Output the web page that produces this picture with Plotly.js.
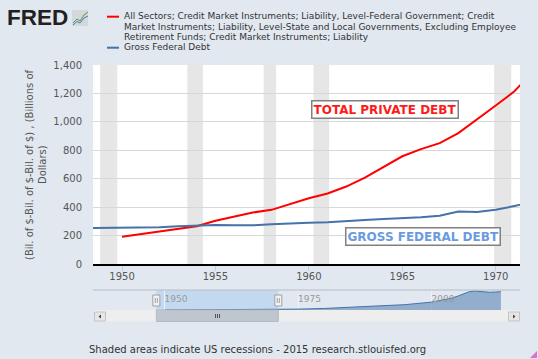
<!DOCTYPE html>
<html><head><meta charset="utf-8">
<script src="https://cdn.plot.ly/plotly-3.0.1.min.js"></script>
<style>html,body{margin:0;padding:0;background:#e1e8f0;}#chart{width:538px;height:359px;}</style>
</head><body><div id="chart"></div>
<script>
// ---- data ----
const privateYears = [1950,1951,1952,1953,1954,1955,1956,1957,1958,1959,1960,1961,1962,1963,1964,1965,1966,1967,1968,1969,1970,1971,1972];
const privateDebt  = [191,210,226,247,266,304,334,362,381,423,462,496,545,607,683,758,808,850,921,1015,1115,1215,1355];
const fedYears = [1948,1949,1950,1951,1952,1953,1954,1955,1956,1957,1958,1959,1960,1961,1962,1963,1964,1965,1966,1967,1968,1969,1970,1971,1972];
const fedDebt  = [252,253,257,255,259,266,271,274,273,272,280,288,291,293,303,310,316,322,329,340,369,366,381,408,436];
// navigator thumbnail (first series, full history), later years read from the small overview
const navLaterYears  = [1975,1980,1985,1990,1995,2000,2004,2005,2006,2007,2008,2009,2010,2011,2012,2013];
const navLaterValues = [1800,3300,5600,8300,11200,16500,25500,29500,34000,38000,39900,38800,37500,37200,37800,38400];
const recessionStarts = ['1948-11-01','1953-07-01','1957-08-01','1960-04-01','1969-12-01'];
const recessionEnds   = ['1949-10-01','1954-05-01','1958-04-01','1961-02-01','1970-11-01'];
const seriesNames = ['All Sectors; Credit Market Instruments; Liability, Level-Federal Government; Credit Market Instruments; Liability, Level-State and Local Governments, Excluding Employee Retirement Funds; Credit Market Instruments; Liability','Gross Federal Debt'];
const legendLines = [
  ['All Sectors; Credit Market Instruments; Liability, Level-Federal Government; Credit',
   'Market Instruments; Liability, Level-State and Local Governments, Excluding Employee',
   'Retirement Funds; Credit Market Instruments; Liability'],
  ['Gross Federal Debt']];
const yTickVals = [0,200,400,600,800,1000,1200,1400];
const xTickYears = ['1950','1955','1960','1965','1970'];
const navTickYears = ['1950','1975','2000'];
const seriesLabels = ['TOTAL PRIVATE DEBT','GROSS FEDERAL DEBT'];
const yTitleLines = ['(Bil. of $-Bil. of $-Bil. of $) , (Billions of','Dollars)'];
const footerText = 'Shaded areas indicate US recessions - 2015 research.stlouisfed.org';

// ---- geometry ----
const L=93, R=520, T=65, B=322;
const px = x => (x - L) / (R - L);
const py = y => (B - y) / (B - T);
const d = y => y + '-01-01';
const mainRange = ['1948-06-13','1971-04-20'];
const navRange = ['1936-08-01','2016-08-01'];
const mainDomain = [py(264), 1];
const navDomain = [py(310), py(290)];
const midMain = '1959-11-30';
const bg = '#e1e8f0';

const traces = [
  {x: privateYears.map(d), y: privateDebt, name: seriesNames[0], type:'scatter', mode:'lines',
   line:{color:'#ff0000', width:2}, xaxis:'x', yaxis:'y', hoverinfo:'skip'},
  {x: fedYears.map(d), y: fedDebt, name: seriesNames[1], type:'scatter', mode:'lines',
   line:{color:'#4572a7', width:2}, xaxis:'x', yaxis:'y', hoverinfo:'skip'},
  {x: privateYears.concat(navLaterYears).map(d), y: privateDebt.concat(navLaterValues), type:'scatter', mode:'lines',
   fill:'tozeroy', fillcolor:'rgba(69,114,167,0.5)', line:{color:'#4572a7', width:1},
   xaxis:'x2', yaxis:'y2', hoverinfo:'skip'}
];

const shapes = [];
recessionStarts.forEach((s,i)=>shapes.push({type:'rect', xref:'x', yref:'y domain', x0:s, x1:recessionEnds[i], y0:0, y1:1,
  fillcolor:'#e6e6e6', line:{width:0}, layer:'below'}));
// navigator background + selection
shapes.push({type:'rect', xref:'paper', yref:'paper', x0:0, x1:1, y0:navDomain[0], y1:navDomain[1], fillcolor:bg, line:{width:0}, layer:'below'});
shapes.push({type:'rect', xref:'x2', yref:'y2 domain', x0:mainRange[0], x1:mainRange[1], y0:0, y1:1, fillcolor:'#c4d9ef', line:{width:0}, layer:'below'});
shapes.push({type:'line', xref:'paper', yref:'paper', x0:0, x1:1, y0:navDomain[1], y1:navDomain[1], line:{color:'#b4bcc6', width:1}});
// scrollbar
shapes.push({type:'rect', xref:'paper', yref:'paper', x0:px(94), x1:1, y0:py(321.5), y1:py(310), fillcolor:'#eeeeee', line:{width:0}});
shapes.push({type:'rect', xref:'x2', yref:'paper', x0:mainRange[0], x1:mainRange[1], y0:py(321.5), y1:py(310), fillcolor:'#bfc6ce', line:{color:'#b3bbc4', width:1}});
[-2,0,2].forEach(o=>shapes.push({type:'line', xref:'x2', yref:'paper', xsizemode:'pixel', xanchor:midMain, x0:o, x1:o,
  y0:py(318), y1:py(314), line:{color:'#555', width:1}}));
[[94,106],[508,520]].forEach(b=>shapes.push({type:'rect', xref:'paper', yref:'paper', x0:px(b[0]+0.5), x1:px(b[1]-0.5), y0:py(321), y1:py(312),
  fillcolor:'#e6e6e6', line:{color:'#c4c4c4', width:1}}));
shapes.push({type:'path', xref:'paper', yref:'paper', path:`M ${px(101)} ${py(314.5)} L ${px(98.5)} ${py(316.5)} L ${px(101)} ${py(318.5)} Z`, fillcolor:'#444', line:{width:0}});
shapes.push({type:'path', xref:'paper', yref:'paper', path:`M ${px(513)} ${py(314.5)} L ${px(515.5)} ${py(316.5)} L ${px(513)} ${py(318.5)} Z`, fillcolor:'#444', line:{width:0}});
// navigator handles
mainRange.forEach(r=>{
  shapes.push({type:'rect', xref:'x2', yref:'paper', xsizemode:'pixel', xanchor:r, x0:-3.5, x1:3.5, y0:py(306), y1:py(295),
    fillcolor:'#f2f2f2', line:{color:'#a0a0a0', width:1}});
  [-1,1].forEach(o=>shapes.push({type:'line', xref:'x2', yref:'paper', xsizemode:'pixel', xanchor:r, x0:o, x1:o, y0:py(303), y1:py(298),
    line:{color:'#a0a0a0', width:1}}));
});
// legend keys
shapes.push({type:'line', xref:'paper', yref:'paper', x0:px(107), x1:px(119), y0:py(16.7), y1:py(16.7), line:{color:'#ff0000', width:2}});
shapes.push({type:'line', xref:'paper', yref:'paper', x0:px(107), x1:px(119), y0:py(47.7), y1:py(47.7), line:{color:'#4572a7', width:2}});
// FRED icon
shapes.push({type:'rect', xref:'paper', yref:'paper', x0:px(72), x1:px(88), y0:py(26), y1:py(10), fillcolor:'#d3d8dc', line:{width:0}});
shapes.push({type:'path', xref:'paper', yref:'paper', path:`M ${px(73)} ${py(23)} L ${px(77)} ${py(19)} L ${px(80)} ${py(21)} L ${px(84)} ${py(15)} L ${px(88)} ${py(12)}`, line:{color:'#5a9a3a', width:1}});
shapes.push({type:'path', xref:'paper', yref:'paper', path:`M ${px(73)} ${py(25)} L ${px(77)} ${py(21.5)} L ${px(80)} ${py(23)} L ${px(84)} ${py(18)} L ${px(88)} ${py(16)}`, line:{color:'#4a78b0', width:1}});
// resize corner
shapes.push({type:'path', xref:'paper', yref:'paper', path:`M ${px(537)} ${py(351)} L ${px(537)} ${py(358)} L ${px(530)} ${py(358)} Z`, fillcolor:'#e070c8', line:{width:0}});

const annotations = [];
const legY = [[16.3,26.7,37],[47.3]];
legendLines.forEach((lines,i)=>lines.forEach((t,j)=>annotations.push({xref:'paper', yref:'paper', x:px(122), y:py(legY[i][j]),
  xanchor:'left', yanchor:'middle', showarrow:false, text:t, font:{family:'DejaVu Sans', size:9, color:'#333'}})));
annotations.push({xref:'paper', yref:'paper', x:px(5), y:py(17.5), xanchor:'left', yanchor:'middle', showarrow:false,
  text:'<b>FRED</b>', font:{family:'Liberation Sans, Arial', size:22.5, color:'#231f20'}});
annotations.push({xref:'paper', yref:'paper', x:px(29), y:py(165), xanchor:'center', yanchor:'middle', textangle:-90, showarrow:false,
  text:yTitleLines[0], font:{family:'DejaVu Sans', size:10, color:'#555'}});
annotations.push({xref:'paper', yref:'paper', x:px(42), y:py(165), xanchor:'center', yanchor:'middle', textangle:-90, showarrow:false,
  text:yTitleLines[1], font:{family:'DejaVu Sans', size:10, color:'#555'}});
annotations.push({xref:'x', yref:'y', x:'1964-02-06', y:1090, showarrow:false, text:'<b>'+seriesLabels[0]+'</b>',
  bgcolor:'#ffffff', bordercolor:'#808080', borderwidth:1.5, borderpad:1, font:{family:'DejaVu Sans', size:12, color:'#ff1a1a'}});
annotations.push({xref:'x', yref:'y', x:'1966-02-17', y:195, showarrow:false, text:'<b>'+seriesLabels[1]+'</b>',
  bgcolor:'#ffffff', bordercolor:'#808080', borderwidth:1.5, borderpad:1, font:{family:'DejaVu Sans', size:12, color:'#6a9be0'}});
annotations.push({xref:'paper', yref:'paper', x:px(87), y:py(349), xanchor:'left', yanchor:'middle', showarrow:false,
  text:footerText, font:{family:'DejaVu Sans', size:10, color:'#333'}});

const layout = {
  width:538, height:359, margin:{l:L, r:538-R, t:T, b:359-B, pad:0},
  paper_bgcolor:bg, plot_bgcolor:'#ffffff', showlegend:false,
  font:{family:'DejaVu Sans', size:10, color:'#555'},
  xaxis:{type:'date', range:mainRange, domain:[0,1], anchor:'y', showgrid:false, zeroline:false,
    showline:true, linecolor:'#000', linewidth:2, ticks:'outside', ticklen:5, tickcolor:'#c0d0e0', tickwidth:1,
    tickvals:xTickYears.map(d), ticktext:xTickYears, tickfont:{size:10, color:'#555'}, ticklabelstandoff:-3, fixedrange:true},
  yaxis:{range:[0,1400], domain:mainDomain, anchor:'x', tickvals:yTickVals, tickformat:',', showgrid:true, gridcolor:'#d8d8d8', gridwidth:1,
    zeroline:false, showline:false, ticks:'', ticklabelstandoff:10, tickfont:{size:10, color:'#555'}, fixedrange:true},
  xaxis2:{type:'date', range:navRange, domain:[0,1], anchor:'y2', showgrid:true, gridcolor:'#eef2f6', zeroline:false, showline:false,
    ticks:'', tickvals:navTickYears.map(d), ticktext:navTickYears, ticklabelposition:'inside right', tickfont:{size:9, color:'#999'}, fixedrange:true},
  yaxis2:{range:[0,42000], domain:navDomain, anchor:'x2', showgrid:false, zeroline:false, showline:false, showticklabels:false, ticks:'', fixedrange:true},
  shapes:shapes, annotations:annotations
};
Plotly.newPlot('chart', traces, layout, {displayModeBar:false, staticPlot:true});
</script></body></html>
